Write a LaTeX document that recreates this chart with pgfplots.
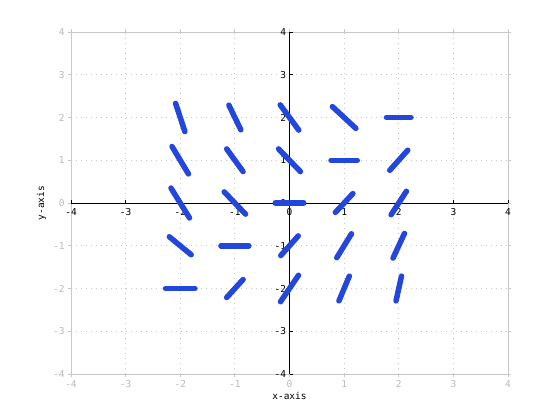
\documentclass[border=0pt]{standalone}
\usepackage{fontspec}
\setmainfont{DejaVu Sans Mono}
\usepackage{pgfplots}
\usepackage{pgfplotstable}
\pgfplotsset{compat=1.18}

\definecolor{boxgray}{RGB}{200,200,200}
\definecolor{labgray}{RGB}{185,185,185}
\definecolor{fieldblue}{RGB}{35,70,220}

% direction field dy/dx = x - y: grid point, segment vector (u,v)
\pgfplotstableread{
x  y   u     v
-2  2  0.17 -0.66
-1  2  0.22 -0.58
 0  2  0.34 -0.59
 1  2  0.43 -0.51
 2  2  0.45  0
-2  1  0.30 -0.64
-1  1  0.30 -0.53
 0  1  0.40 -0.53
 1  1  0.48  0
 2  1  0.33  0.47
-2  0  0.34 -0.70
-1  0  0.39 -0.52
 0  0  0.52  0
 1  0  0.32  0.44
 2  0  0.28  0.55
-2 -1  0.40 -0.42
-1 -1  0.51  0
 0 -1  0.32  0.46
 1 -1  0.27  0.56
 2 -1  0.21  0.58
-2 -2  0.54  0
-1 -2  0.30  0.42
 0 -2  0.33  0.62
 1 -2  0.19  0.58
 2 -2  0.10  0.58
}\fielddata

\pgfplotsset{
  base/.style={
    at={(71bp,46bp)}, anchor=south west,
    width=437bp, height=342bp, scale only axis,
    xmin=-4, xmax=4, ymin=-4, ymax=4,
    xtick={-4,...,4}, ytick={-4,...,4},
    font=\fontsize{9.5bp}{11bp}\selectfont,
    /pgf/number format/assume math mode=true,
    major tick length=3bp,
  },
}

\begin{document}
\begin{tikzpicture}
\path[use as bounding box] (0,0) rectangle (560bp,420bp);

% outer box with grid
\begin{axis}[
    base,
    axis line style={boxgray, line width=0.8bp},
    tick style={boxgray, line width=0.8bp},
    tick align=outside,
    ticklabel style={text=labgray},
    grid=major,
    grid style={boxgray, line width=0.8bp, dash pattern=on 0.8bp off 4.2bp},
    xlabel={x-axis}, ylabel={y-axis},
    xlabel style={yshift=2bp},
  ]
\end{axis}

% centred axes
\begin{axis}[
    base,
    axis lines=middle,
    axis line style={black, line width=0.8bp, -},
    tick style={black, line width=0.8bp},
    tick align=inside,
    hide obscured x ticks=false,
    hide obscured y ticks=false,
    xticklabel style={yshift=-2bp},
  ]
\end{axis}

% field segments
\begin{axis}[base, hide axis]
  \addplot[
      fieldblue, line width=5.5bp, line cap=round,
      quiver={u=\thisrow{u}, v=\thisrow{v},
              every arrow/.append style={line cap=round}},
    ]
    table[x expr=\thisrow{x}-0.5*\thisrow{u},
          y expr=\thisrow{y}-0.5*\thisrow{v}] {\fielddata};
\end{axis}
\end{tikzpicture}
\end{document}
